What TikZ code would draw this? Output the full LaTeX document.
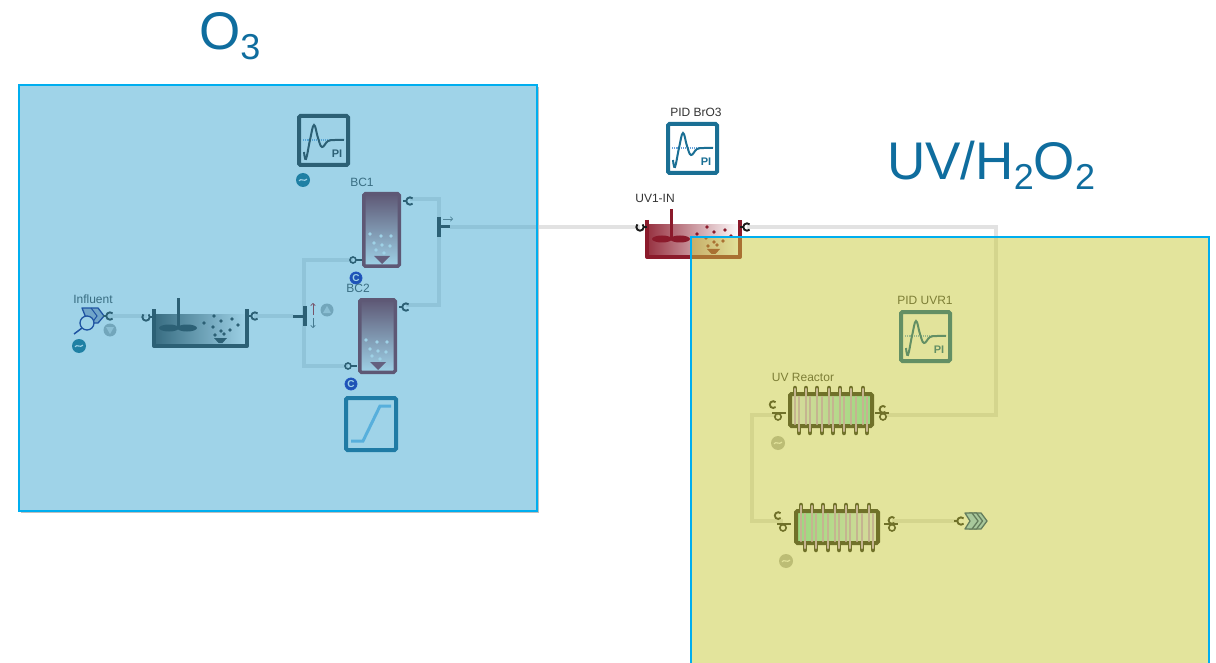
\documentclass[tikz,border=0pt]{standalone}
\usepackage{fontspec}
\usetikzlibrary{arrows.meta}
\setmainfont{Liberation Sans}
\definecolor{titleblue}{HTML}{0F6D9E}
\definecolor{frameblue}{HTML}{00AEEF}
\definecolor{zoneblue}{HTML}{3FA7D1}
\definecolor{zoneyellow}{HTML}{C7C939}
\definecolor{pipegrey}{HTML}{E2E2E2}
\definecolor{pidblue}{HTML}{1A6F94}
\definecolor{pidgreen}{HTML}{005590}
\definecolor{rampblue}{HTML}{004F79}
\definecolor{ramplight}{HTML}{70B8E8}
\definecolor{signblue}{HTML}{005A78}
\definecolor{darkred}{HTML}{8B1A2B}
\definecolor{columnred}{HTML}{7F0A1A}
\definecolor{inkdark}{HTML}{1A1A1A}
\definecolor{lampgrey}{HTML}{C4A0E8}
\definecolor{lampgreen}{HTML}{6FE8C8}
\definecolor{lamptan}{HTML}{EEEEFF}
\definecolor{chevdark}{HTML}{00307F}
\definecolor{chevlight}{HTML}{89C7FF}
\newcommand{\titlesub}[1]{\raisebox{-10pt}{\fontsize{36}{36}\selectfont #1}}
\tikzset{
  pipe/.style={draw=pipegrey, line width=3.6pt},
  lbl/.style={font=\fontsize{12}{14}\selectfont, text=black!80, inner sep=0pt},
  titlelbl/.style={font=\fontsize{53}{60}\selectfont, text=titleblue, inner sep=0pt},
  flowarrow/.style={-{To[length=3pt,width=5pt]}, line width=0.7pt},
  % Ports on the process units
  pics/portr/.style={code={
    \draw[line width=1.4pt, #1] (-7,0) -- (-3.4,0);
    \draw[line width=1.9pt, #1] (2.6,-2.6) arc[start angle=-45, end angle=-315, radius=3.7];
  }},
  pics/portl/.style={code={
    \draw[line width=1.4pt, #1] (7,0) -- (3.4,0);
    \draw[line width=1.9pt, #1] (-2.6,-2.6) arc[start angle=225, end angle=-45, radius=3.7];
  }},
  pics/portring/.style={code={
    \draw[line width=1.4pt, inkdark] (3,0) -- (9,0);
    \draw[line width=1.6pt, inkdark] (0,0) circle (3);
  }},
  pics/portdbl/.style={code={
    \draw[line width=1.6pt, inkdark] (0,3.8) circle (3.2);
    \draw[line width=1.9pt, inkdark] (#1*2.4,-6) arc[start angle=#1*-45, end angle=#1*-315, radius=3.4];
    \draw[line width=1.4pt, inkdark] (#1*-8,0) -- (#1*6,0);
  }},
  % PI controller block
  pics/pidbox/.style={code={
    \draw[draw=#1, line width=4pt, rounded corners=1.5pt, fill=white] (2,2) rectangle (51,51);
    \draw[densely dotted, cyan!60!blue!60, line width=1.2pt] (6,26) -- (47,26);
    \draw[#1, line width=2pt] plot[smooth, tension=0.7] coordinates {(7,38) (9,45) (13,26) (17,11) (21,24) (25,33) (31,27) (38,26) (47,26)};
    \node[font=\bfseries\fontsize{11}{12}\selectfont, text=#1, inner sep=0pt] (-pi) at (40,40) {PI};
  }},
  % Mixed tank, the argument is the colour
  pics/mixtank/.style={code={
    \fill[left color=#1!90, right color=white] (0,5) rectangle (93,37);
    \draw[#1, line width=4pt, line join=round] (0,0) -- (0,37) -- (93,37) -- (93,0);
    \draw[#1, line width=3pt] (24,-11) -- (24,19);
    \fill[#1] (15,19) ellipse (10 and 3.5);
    \fill[#1] (33,19) ellipse (10 and 3.5);
    \fill[#1] (60,29) -- (73,29) -- (68.5,34) -- (64.5,34) -- cycle;
    \foreach \bx/\by in {50/14, 60/7, 67/12, 78/10, 84/16, 59/18, 67/22, 76/21, 61/26, 70/25}
      \fill[#1] (\bx,\by) circle (1.9);
  }},
  % Bubble column
  pics/bubblecol/.style={code={
    \draw[draw=columnred, line width=3.5pt, rounded corners=1.5pt, top color=columnred, middle color=columnred!75!white, bottom color=white] (1.75,1.75) rectangle (37.25,74.25);
    \foreach \bx/\by in {8/42, 19/44, 29/44, 12/51, 20/53, 28/54, 14/58, 22/61}
      \fill[white] (\bx,\by) circle (1.8);
    \fill[darkred] (12,64) -- (28,64) -- (20,72) -- cycle;
  }},
  % UV reactor with its lamps, the arguments are the colours from left to right
  pics/uvreact/.style 2 args={code={
    \foreach \lx in {7,18,29,41,52,63,75}
      \draw[inkdark, line width=4.5pt, line cap=round] (\lx,-4) -- (\lx,2);
    \foreach \lx in {11,22,34,45,56,68,79}
      \draw[inkdark, line width=4.5pt, line cap=round] (\lx,34) -- (\lx,41);
    \draw[draw=inkdark, line width=4pt, rounded corners=1.5pt, left color=#1, right color=#2] (2,2) rectangle (84,34);
    \foreach \lx in {7,18,29,41,52,63,75}
      \draw[lampgrey, line width=2.5pt, line cap=round] (\lx,-3) -- (\lx,32);
    \foreach \lx in {11,22,34,45,56,68,79}
      \draw[lampgrey, line width=2.5pt, line cap=round] (\lx,5) -- (\lx,39);
  }},
  % Small round signs
  pics/tildebadge/.style={code={
    \fill[#1] (0,0) circle (7);
    \draw[white, line width=1.1pt] (-4,0.8) .. controls (-2,-2.2) and (1,2.2) .. (4,-0.8);
  }},
  pics/pumpsign/.style={code={
    \fill[black!35] (0,0) circle (6.5);
    \fill[black!15] (-4,-3) -- (4,-3) -- (0,4) -- cycle;
  }},
  cbadge/.style={circle, fill=blue!60!black, draw=blue!70!black, line width=0.8pt, minimum size=12pt, inner sep=0pt, text=white, font=\bfseries\fontsize{10}{10}\selectfont},
}
\begin{document}
\begin{tikzpicture}[x=1pt, y=-1pt]
  \useasboundingbox (0,0) rectangle (1216,663);

  % Define pipe ends
  \coordinate (infout) at (108,316);
  \coordinate (tankin) at (147,316);
  \coordinate (tankout) at (254,316);
  \coordinate (splitin) at (293,316);
  \coordinate (splittop) at (304,260);
  \coordinate (bconein) at (353,260);
  \coordinate (splitbot) at (304,366);
  \coordinate (bctwoin) at (348,366);
  \coordinate (bconeout) at (410,199);
  \coordinate (mixone) at (439,199);
  \coordinate (bctwoout) at (406,305);
  \coordinate (mixtwo) at (439,305);
  \coordinate (mixout) at (450,227);
  \coordinate (uvinin) at (640,227);
  \coordinate (uvinout) at (747,227);
  \coordinate (uvcorner) at (996,227);
  \coordinate (uvdown) at (996,415);
  \coordinate (reactout) at (885,415);
  \coordinate (reactin) at (778,415);
  \coordinate (loopone) at (752,415);
  \coordinate (looptwo) at (752,521);
  \coordinate (reacttwoin) at (783,521);
  \coordinate (reacttwoout) at (892,521);
  \coordinate (effin) at (959,521);

  % Draw pipes
  \draw[pipe] (infout) -- (tankin);
  \draw[pipe] (tankout) -- (splitin);
  \draw[pipe] (bconein) -- (splittop) -- (splitbot) -- (bctwoin);
  \draw[pipe] (bconeout) -- (mixone) -- (mixtwo) -- (bctwoout);
  \draw[pipe] (mixout) -- (uvinin);
  \draw[pipe] (uvinout) -- (uvcorner) -- (uvdown) -- (reactout);
  \draw[pipe] (reactin) -- (loopone) -- (looptwo) -- (reacttwoin);
  \draw[pipe] (reacttwoout) -- (effin);

  % Draw influent
  \node[lbl] (inflbl) at (93,299) {Influent};
  \draw[blue!45!black, line width=1.3pt, fill=blue!20!gray!60, line join=round] (82,308) -- (98,308) -- (104,316) -- (98,323) -- (88,323) -- cycle;
  \draw[blue!45!black, line width=1pt] (91,308) -- (97,316) -- (92,323);
  \draw[blue!45!black, line width=1.3pt, fill=white] (87,323) circle (7);
  \draw[blue!45!black, line width=1.5pt] (82,328) -- (74,334);
  \pic (infport) at (110,316) {portr=inkdark};
  \pic (infpump) at (110,330) {pumpsign};
  \pic (infsign) at (79,346) {tildebadge=signblue};

  % Draw first tank and splitter
  \pic (tankone) at (154,309) {mixtank=inkdark};
  \pic (tankonein) at (146,317) {portl=inkdark};
  \pic (tankoneout) at (255,316) {portr=inkdark};
  \draw[inkdark, line width=4pt] (305,306) -- (305,326);
  \draw[inkdark, line width=3pt] (293,316) -- (305,316);
  \draw[flowarrow, red!70!black] (313,315) -- (313,303);
  \draw[flowarrow, black!70] (313,318) -- (313,328);
  \pic[rotate=180] (splitpump) at (327,310) {pumpsign};

  % Draw bubble columns
  \node[lbl] (bconelbl) at (362,182) {BC1};
  \pic (bcone) at (362,192) {bubblecol};
  \pic (bconeport) at (410,201) {portr=inkdark};
  \pic (bconering) at (353,260) {portring};
  \node[cbadge] (bconebadge) at (356,278) {C};
  \node[lbl] (bctwolbl) at (358,288) {BC2};
  \pic (bctwo) at (358,298) {bubblecol};
  \pic (bctwoport) at (406,307) {portr=inkdark};
  \pic (bctworing) at (348,366) {portring};
  \node[cbadge] (bctwobadge) at (351,384) {C};

  % Draw mixer
  \draw[inkdark, line width=4pt] (439,217) -- (439,237);
  \draw[inkdark, line width=3pt] (439,227) -- (450,227);
  \draw[flowarrow, black!60] (443,219) -- (453,219);

  % Draw controllers
  \pic (pidozone) at (297,114) {pidbox=inkdark};
  \pic (pidsign) at (303,180) {tildebadge=signblue};
  \draw[draw=rampblue, line width=4pt, rounded corners=1.5pt] (346,398) rectangle (396,450);
  \draw[ramplight, line width=3pt] (351,441) -- (363,441) -- (380,406) -- (391,406);
  \node[lbl] (pidbrolbl) at (696,112) {PID BrO3};
  \pic (pidbro) at (666,122) {pidbox=pidblue};
  \node[lbl] (pidlbl) at (925,300) {PID UVR1};
  \pic (piduvr) at (899,310) {pidbox=pidgreen};

  % Draw UV tank
  \node[lbl] (uvinlbl) at (655,198) {UV1-IN};
  \pic (uvtank) at (647,220) {mixtank=darkred};
  \pic (uvtankin) at (640,227) {portl=inkdark};
  \pic (uvtankout) at (747,227) {portr=inkdark};

  % Draw reactors
  \node[lbl] (reactlbl) at (803,377) {UV Reactor};
  \pic (reactone) at (788,392) {uvreact={lamptan}{lampgreen}};
  \pic (reactoneout) at (883,413) {portdbl=1};
  \pic (reactonein) at (778,413) {portdbl=-1};
  \pic (reactsign) at (778,443) {tildebadge=black!30};
  \pic (reacttwo) at (794,509) {uvreact={lampgreen}{lamptan}};
  \pic (reacttwoinp) at (783,524) {portdbl=-1};
  \pic (reacttwooutp) at (892,524) {portdbl=1};
  \pic (reacttwosign) at (786,561) {tildebadge=black!30};

  % Draw effluent
  \pic (effport) at (961,521) {portr=inkdark};
  \foreach \cx in {969,964.5,960}
    \draw[draw=chevdark, line width=1.3pt, fill=chevlight, line join=round] (\cx+5,513) -- (\cx+12,513) -- (\cx+18,521) -- (\cx+12,529) -- (\cx+5,529) -- (\cx+10,521) -- cycle;

  % Draw zones
  \draw[black!25, line width=1.5pt] (21,512.5) -- (538.5,512.5) -- (538.5,87);
  \fill[zoneblue, opacity=0.5] (19,85) rectangle (537,511);
  \draw[frameblue, line width=1.4pt] (19,85) rectangle (537,511);
  \fill[zoneyellow, opacity=0.5] (691,237) rectangle (1209,663);
  \draw[frameblue, line width=1.4pt] (691,663) -- (691,237) -- (1209,237) -- (1209,663);

  % Add titles
  \node[titlelbl, anchor=base west] (ozonelbl) at (199,50) {O\titlesub{3}};
  \node[titlelbl, anchor=base west] (uvlbl) at (887,180) {UV/H\titlesub{2}O\titlesub{2}};
\end{tikzpicture}
\end{document}
